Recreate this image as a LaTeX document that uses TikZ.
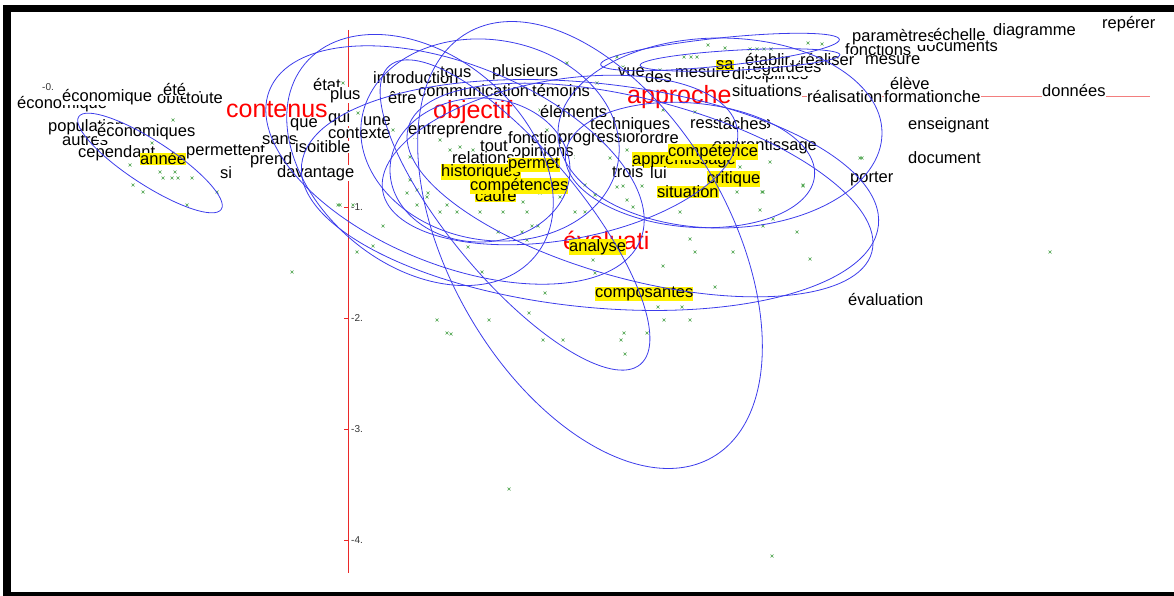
\documentclass[tikz,border=0pt]{standalone}
\usepackage{fontspec}
\setmainfont{Liberation Sans}
\definecolor{loopblue}{RGB}{60,60,235}
\definecolor{markgreen}{RGB}{70,160,70}
\definecolor{axisred}{RGB}{235,40,40}
\begin{document}
\begin{tikzpicture}
  [x=1pt,y=-1pt,
   Word/.style={anchor=west,fill=white,inner sep=0pt,font=\fontsize{16.5}{16.5}\selectfont},
   Hi/.style={Word,fill=yellow},
   Theme/.style={Word,text=red,font=\fontsize{25}{25}\selectfont},
   Tick/.style={anchor=west,inner sep=0pt,text=black!80,font=\fontsize{10}{10}\selectfont},
   Loop/.style={draw=loopblue,line width=0.8pt},
   Cross/.style={draw=markgreen,line width=0.5pt}]
  \useasboundingbox (0,0) rectangle (1174,596);
  % frame
  \fill (3,5) rectangle (1174,12);
  \fill (3,5) rectangle (11,596);
  \fill (3,592) rectangle (1174,596);
  % axes
  \draw[axisred,line width=0.8pt] (348,30) -- (348,573);
  \draw[axisred!60,line width=1pt] (795,97) -- (1150,97);
  \foreach \ty/\tl in {207/-1.,318/-2.,429/-3.,540/-4.}
    {\draw[axisred] (344,\ty) -- (348,\ty);
     \node[Tick] (t\ty) at (351,\ty) {\tl};}
  \node[Tick] (t0) at (42,87) {-0.};
  % points
  \foreach \px/\py in {80/110,146/138,152/143,173/120,130/165,160/172,175/172,163/178,172/178,178/178,
      192/178,133/185,143/192,217/192,187/205,338/205,353/205,343/83,380/82,403/97,358/113,375/122,
      393/130,415/137,440/140,460/147,473/150,410/157,450/150,547/130,553/150,573/157,567/63,597/83,
      540/110,410/180,417/190,427/197,540/193,560/197,523/202,627/150,633/207,340/205,407/193,428/193,
      417/205,447/205,440/212,457/212,480/212,503/212,527/212,383/226,373/246,357/252,468/247,498/232,
      522/232,527/240,532/226,538/226,575/212,585/212,617/187,623/186,642/186,680/212,690/239,695/252,
      733/252,763/226,773/219,797/232,810/259,763/192,803/186,482/272,595/273,545/293,715/287,682/307,
      690/320,447/333,647/333,593/260,663/266,760/210,437/320,451/334,489/320,529/313,563/340,543/340,
      624/333,621/340,625/354,658/307,664/320,509/489,772/556,617/57,660/70,690/103,640/130,663/110,
      695/112,753/140,740/167,770/162,737/192,762/192,585/185,595/195,627/200,803/185,860/158,610/158,
      623/67,750/49,757/49,764/49,771/49,684/57,691/57,697/57,708/45,725/48,808/43,822/44,1050/252,
      862/158,292/272}
    \draw[Cross] (\px-1.5,\py-1.5) -- (\px+1.5,\py+1.5) (\px-1.5,\py+1.5) -- (\px+1.5,\py-1.5);
  % words, left group
  \node[Word] (econ1) at (17,104) {économique};
  \node[Word] (econ2) at (62,97) {économique};
  \node[Word] (obtenir) at (157,98) {obtenir};
  \node[Word] (ete) at (163,90) {été};
  \node[Word] (toute) at (186,98) {toute};
  \node[Word] (autres) at (62,140) {autres};
  \node[Word] (popul) at (48,127) {population};
  \node[Word] (econ3) at (97,132) {économiques};
  \node[Word] (cepend) at (78,153) {cependant};
  \node[Hi] (annee) at (140,159) {année};
  \node[Word] (permett) at (186,152) {permettent};
  \node[Word] (prend) at (250,160) {prend};
  \node[Word] (si) at (220,173) {si};
  \node[Word] (que) at (290,125) {que};
  \node[Word] (sans) at (262,140) {sans};
  \node[Word] (isoit) at (295,147) {isoitible};
  \node[Word] (davant) at (277,173) {davantage};
  \node[Word] (etat) at (313,85) {état};
  \node[Theme] (contenus) at (226,110) {contenus};
  % words, centre
  \node[Word] (plus) at (330,95) {plus};
  \node[Word] (qui) at (328,118) {qui};
  \node[Word] (contexte) at (328,133) {contexte};
  \node[Word] (une) at (363,121) {une};
  \node[Word] (etre) at (388,98) {être};
  \node[Word] (introd) at (373,78) {introduction};
  \node[Word] (tous) at (440,72) {tous};
  \node[Word] (plusieurs) at (492,72) {plusieurs};
  \node[Word] (commun) at (418,91) {communication};
  \node[Word] (temoins) at (532,91) {témoins};
  \node[Word] (entrep) at (408,130) {entreprendre};
  \node[Theme] (objectif) at (433,112) {objectif};
  \node[Word] (elements) at (540,112) {éléments};
  \node[Word] (tout) at (480,146) {tout};
  \node[Word] (fonction) at (508,138) {fonction};
  \node[Word] (progres) at (558,138) {progression};
  \node[Word] (ordre) at (640,138) {ordre};
  \node[Word] (opinions) at (512,152) {opinions};
  \node[Word] (relations) at (452,158) {relations};
  \node[Hi] (cadre) at (475,196) {cadre};
  \node[Hi] (histor) at (441,172) {historiques};
  \node[Hi] (permet) at (508,165) {permet};
  \node[Hi] (competences) at (470,186) {compétences};
  % words, right centre
  \node[Word] (techniques) at (590,125) {techniques};
  \node[Word] (vue) at (618,72) {vue};
  \node[Word] (des) at (645,77) {des};
  \node[Word] (mesure) at (675,73) {mesure};
  \node[Word] (discipl) at (732,75) {disciplines};
  \node[Word] (regard) at (747,68) {regardées};
  \node[Word] (fonctions) at (845,50) {fonctions};
  \node[Word] (etablir) at (745,60) {établir};
  \node[Word] (realiser) at (800,60) {réaliser};
  \node[Word] (mesure2) at (865,60) {mesure};
  \node[Hi] (sa) at (716,65) {sa};
  \node[Theme] (approche) at (627,97) {approche};
  \node[Word] (situations) at (732,91) {situations};
  \node[Word] (ressources) at (690,124) {ressources};
  \node[Word] (taches) at (718,124) {tâches};
  \node[Word] (apprent1) at (713,146) {apprentissage};
  \node[Hi] (apprent2) at (632,160) {apprentissage};
  \node[Hi] (competence) at (668,152) {compétence};
  \node[Word] (trois) at (612,172) {trois};
  \node[Word] (lui) at (650,173) {lui};
  \node[Hi] (critique) at (707,179) {critique};
  \node[Hi] (situation) at (657,192) {situation};
  \node[Theme] (evaluati) at (563,240) {évaluati};
  \node[Hi] (analyse) at (569,247) {analyse};
  \node[Hi] (composantes) at (595,294) {composantes};
  % words, right
  \node[Word] (documents) at (917,46) {documents};
  \node[Word] (parametres) at (852,37) {paramètres};
  \node[Word] (echelle) at (933,35) {échelle};
  \node[Word] (diagramme) at (993,31) {diagramme};
  \node[Word] (reperer) at (1102,24) {repérer};
  \node[Word] (eleve) at (890,84) {élève};
  \node[Word] (realisation) at (807,97) {réalisation};
  \node[Word] (recherche) at (907,97) {recherche};
  \node[Word] (formation) at (884,97) {formation};
  \node[Word] (donnees) at (1042,91) {données};
  \node[Word] (enseignant) at (908,125) {enseignant};
  \node[Word] (document) at (908,158) {document};
  \node[Word] (porter) at (850,179) {porter};
  \node[Word] (evaluation) at (848,300) {évaluation};
  % ellipses
  \foreach \cx/\cy/\ra/\rb/\rot in {150/163/85/22/-33, 455/165/200/100/-22, 590/245/245/140/-60,
      515/215/195/65/-50, 720/133/162/95/0, 690/165/125/62/-5, 720/52/120/14/6, 740/60/100/10/3,
      490/140/130/100/-10, 590/195/290/112/-6, 480/170/90/72/0, 560/160/180/80/10, 640/190/240/90/-15,
      420/160/150/105/-40}
    \draw[Loop,rotate around={\rot:(\cx,\cy)}] (\cx,\cy) ellipse [x radius=\ra, y radius=\rb];
\end{tikzpicture}
\end{document}
